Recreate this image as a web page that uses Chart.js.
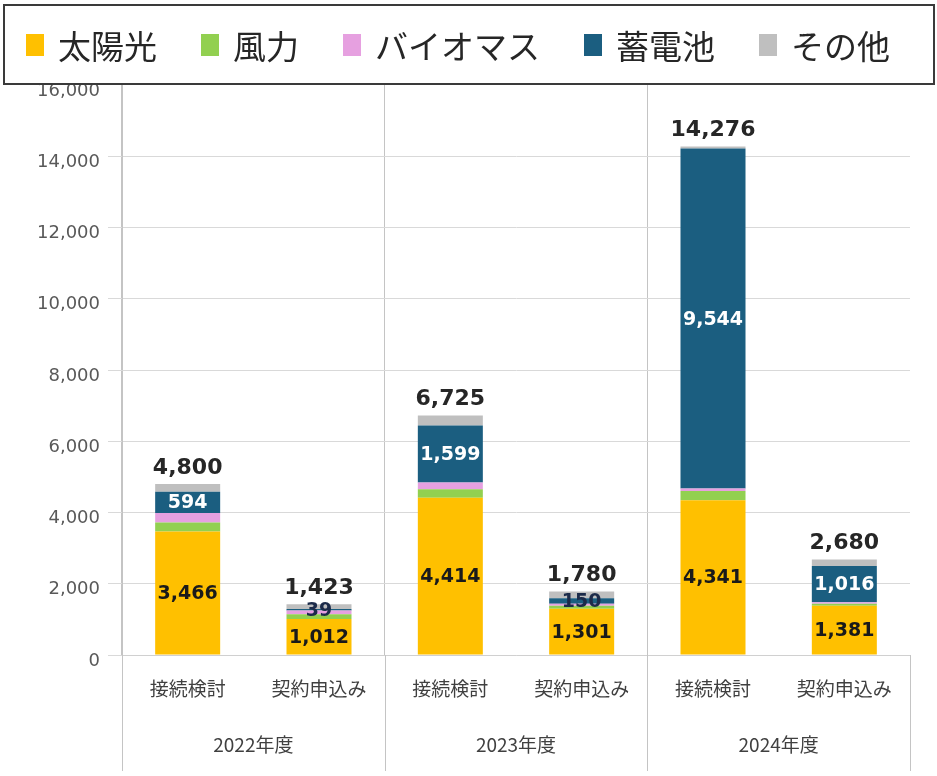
<!DOCTYPE html>
<html>
<head>
<meta charset="utf-8">
<script src="https://cdn.jsdelivr.net/npm/chart.js@4/dist/chart.umd.min.js"></script>
<style>
  html, body { margin: 0; padding: 0; background: #fff; }
  #wrap { width: 937px; height: 776px; position: relative; }
</style>
</head>
<body>
<div id="wrap"><canvas id="chart"></canvas></div>
<script>
// data
const categories = ['接続検討', '契約申込み', '接続検討', '契約申込み', '接続検討', '契約申込み'];
const years = ['2022年度', '2023年度', '2024年度'];
const seriesNames = ['太陽光', '風力', 'バイオマス', '蓄電池', 'その他'];
const solar = [3466, 1012, 4414, 1301, 4341, 1381];
const wind = [250, 130, 240, 80, 260, 60];
const biomass = [270, 110, 190, 60, 70, 40];
const battery = [594, 39, 1599, 150, 9544, 1016];
const other = [220, 132, 282, 189, 61, 183];
const totals = [4800, 1423, 6725, 1780, 14276, 2680];
const yMax = 16000;
const yStep = 2000;

const colors = ['#FFC000', '#92D050', '#E6A0E0', '#1B5E80', '#BFBFBF'];
const seriesData = [solar, wind, biomass, battery, other];
const labelledSeries = [0, 3]; // solar + battery get value labels

const fmt = v => v.toLocaleString('en-US');
const jpFont = '"Noto Sans CJK JP", "Noto Sans", sans-serif';
const numFont = '"DejaVu Sans", Verdana, sans-serif';

// boxed legend drawn at the top
const boxedLegend = {
    id: 'boxedLegend',
    afterDraw: function (chart) {
        const ctx = chart.ctx;
        ctx.save();
        ctx.strokeStyle = '#3a3a3a';
        ctx.lineWidth = 2;
        ctx.strokeRect(4, 5, chart.width - 7, 79);

        ctx.font = '33px ' + jpFont;
        const boxW = 18, boxH = 22, gapIn = 14, gapOut = 44;
        const items = chart.data.datasets.map(function (d) {
            return { text: d.label, color: d.backgroundColor, w: boxW + gapIn + ctx.measureText(d.label).width };
        });
        const total = items.reduce((s, it) => s + it.w, 0) + gapOut * (items.length - 1);
        let x = 458 - total / 2;
        const cy = 45;
        items.forEach(function (it) {
            ctx.fillStyle = it.color;
            ctx.fillRect(x, cy - boxH / 2, boxW, boxH);
            ctx.fillStyle = '#262626';
            ctx.textBaseline = 'middle';
            ctx.textAlign = 'left';
            ctx.fillText(it.text, x + boxW + gapIn, cy + 1);
            x += it.w + gapOut;
        });
        ctx.restore();
    }
};

// year groups under the category labels
const yearGroups = {
    id: 'yearGroups',
    afterDraw: function (chart) {
        const ctx = chart.ctx;
        const xs = chart.scales.x;
        const area = chart.chartArea;
        const band = xs.getPixelForValue(1) - xs.getPixelForValue(0);
        ctx.save();
        ctx.strokeStyle = '#c4c4c4';
        ctx.lineWidth = 1;
        for (let g = 0; g <= years.length; g++) {
            const px = Math.round(xs.getPixelForValue(g * 2) - band / 2) + 0.5;
            ctx.beginPath();
            ctx.moveTo(px, area.bottom);
            ctx.lineTo(px, area.bottom + 116);
            ctx.stroke();
        }
        ctx.fillStyle = '#404040';
        ctx.font = '19px ' + jpFont;
        ctx.textAlign = 'center';
        ctx.textBaseline = 'middle';
        years.forEach(function (y, g) {
            const cx = (xs.getPixelForValue(g * 2) + xs.getPixelForValue(g * 2 + 1)) / 2;
            ctx.fillText(y, cx, area.bottom + 90);
        });
        ctx.restore();
    }
};

// value labels in segments and totals on top
const valueLabels = {
    id: 'valueLabels',
    afterDatasetsDraw: function (chart) {
        const ctx = chart.ctx;
        ctx.save();
        ctx.textAlign = 'center';
        ctx.textBaseline = 'middle';
        ctx.font = 'bold 19px ' + numFont;
        labelledSeries.forEach(function (di) {
            const meta = chart.getDatasetMeta(di);
            meta.data.forEach(function (bar, i) {
                const h = Math.abs(bar.base - bar.y);
                const cy = (bar.base + bar.y) / 2;
                if (di === 3 && h > 20) ctx.fillStyle = '#ffffff';
                else if (di === 3) ctx.fillStyle = '#1c2b4a';
                else ctx.fillStyle = '#1a1a1a';
                ctx.fillText(fmt(seriesData[di][i]), bar.x, cy + 1);
            });
        });
        const last = chart.getDatasetMeta(seriesData.length - 1);
        ctx.font = 'bold 22px ' + numFont;
        ctx.fillStyle = '#262626';
        ctx.textBaseline = 'bottom';
        last.data.forEach(function (bar, i) {
            ctx.fillText(fmt(totals[i]), bar.x, bar.y - 5);
        });
        ctx.restore();
    }
};

new Chart(document.getElementById('chart'), {
    type: 'bar',
    data: {
        labels: categories,
        datasets: seriesNames.map(function (name, i) {
            return {
                label: name,
                data: seriesData[i],
                backgroundColor: colors[i],
                borderWidth: 0,
                categoryPercentage: 1,
                barPercentage: 0.495
            };
        })
    },
    options: {
        responsive: true,
        maintainAspectRatio: false,
        animation: false,
        layout: { padding: { top: 85, right: 27, left: 0, bottom: 0 } },
        plugins: {
            legend: { display: false },
            tooltip: { enabled: false }
        },
        scales: {
            x: {
                stacked: true,
                grid: {
                    offset: true,
                    drawTicks: false,
                    color: function (c) { return c.index % 2 === 0 ? '#c4c4c4' : 'rgba(0,0,0,0)'; }
                },
                border: { display: true, color: '#d0d0d0' },
                ticks: { font: { size: 19, family: jpFont }, color: '#404040', padding: 22, maxRotation: 0 },
                afterFit: function (s) { s.height = 121; }
            },
            y: {
                stacked: true,
                min: 0,
                max: yMax,
                grid: {
                    color: function (c) { return c.tick && c.tick.value === yMax ? 'rgba(0,0,0,0)' : '#d9d9d9'; },
                    tickLength: 14
                },
                border: { display: true, color: '#c4c4c4' },
                ticks: {
                    stepSize: yStep,
                    font: { size: 18, family: numFont },
                    color: '#595959',
                    padding: 8,
                    labelOffset: 6,
                    callback: function (v) { return fmt(v); }
                },
                afterFit: function (s) { s.width = 122; }
            }
        }
    },
    plugins: [boxedLegend, yearGroups, valueLabels]
});
</script>
</body>
</html>
